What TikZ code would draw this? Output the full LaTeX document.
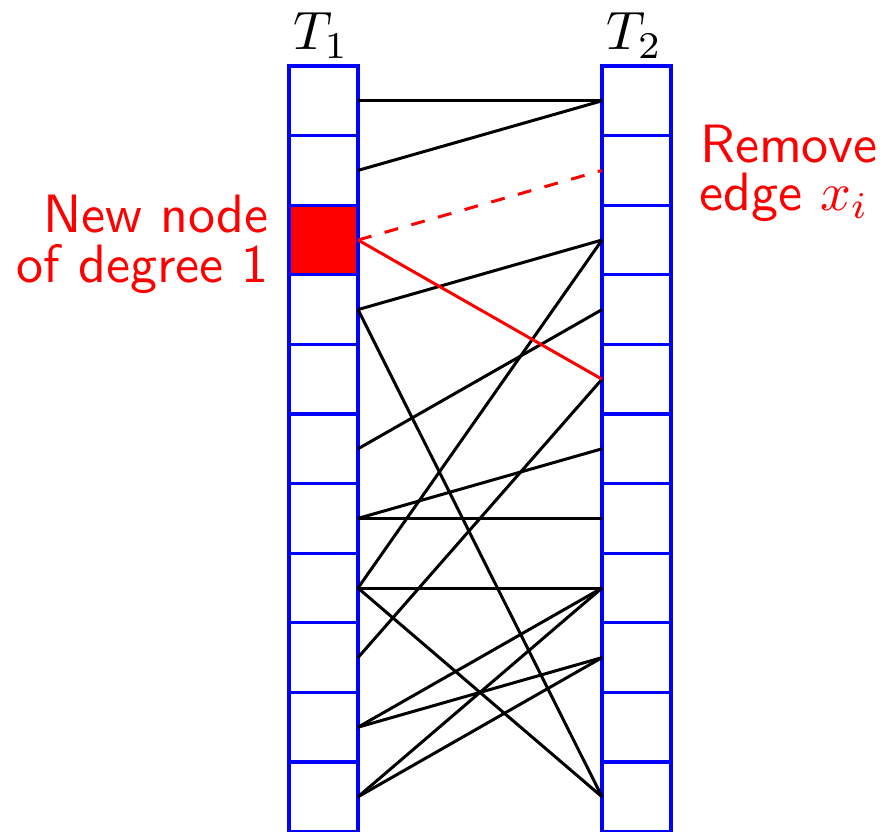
\documentclass[tikz,border=0pt]{standalone}
\usepackage{graphicx}
\newcommand{\bigtxt}[1]{\scalebox{5.4}{#1}}
\begin{document}
\begin{tikzpicture}[x=1pt,y=-1pt,
  cell/.style={draw=blue, line width=3.3pt, fill=white, minimum width=69pt, minimum height=69.6pt, inner sep=0pt, outer sep=0pt},
  newcell/.style={cell, fill=red},
  edge/.style={line width=3pt, black},
  rededge/.style={line width=3pt, red},
  lbl/.style={red, font=\sffamily, inner sep=0pt},
  ttl/.style={inner sep=0pt}]
\useasboundingbox (0,0) rectangle (886,832);
\foreach \k/\s in {1/cell,2/cell,3/newcell,4/cell,5/cell,6/cell,7/cell,8/cell,9/cell,10/cell,11/cell} {
  \node[\s] (L\k) at (323.5, {66+(\k-0.5)*69.6}) {};
  \node[cell] (R\k) at (636.5, {66+(\k-0.5)*69.6}) {};
}
\foreach \a/\b in {1/1,2/1,4/3,4/11,8/3,6/4,9/5,7/6,7/7,8/8,8/11,10/8,11/8,10/9,11/9} {
  \draw[edge] (L\a.east) -- (R\b.west);
}
\draw[rededge] (L3.east) -- (R5.west);
\draw[rededge, dash pattern=on 14pt off 13.7pt] (L3.east) -- (R2.west);
\node[ttl, anchor=base] (t1) at (321,50) {\bigtxt{$T_1$}};
\node[ttl, anchor=base] (t2) at (634.5,50) {\bigtxt{$T_2$}};
\node[lbl, anchor=base east] (nn1) at (269,232) {\bigtxt{New node}};
\node[lbl, anchor=base east] (nn2) at (269,282) {\bigtxt{of degree 1}};
\node[lbl, anchor=base west] (re1) at (700,162) {\bigtxt{Remove}};
\node[lbl, anchor=base west] (re2) at (699,210) {\bigtxt{edge $x_i$}};
\end{tikzpicture}
\end{document}
